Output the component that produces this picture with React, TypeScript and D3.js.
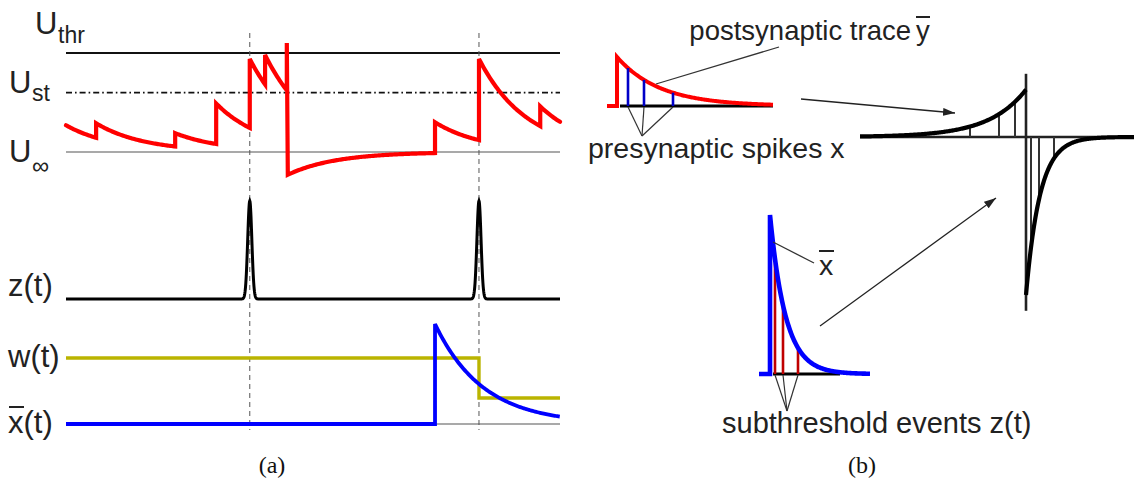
import React, { useEffect } from 'react';
import * as d3 from 'd3';

const W = 1134;
const H = 490;

// ---------- Panel (a): membrane potential (units: U_inf = 0, U_thr = 1), time in ms ----------
const U_INF = 0;
const U_ST = 0.6;
const U_THR = 1.0;
const TAU_M = 9.7;
const U_START = 0.27;
const inputTimes = [6.1, 22.1, 30.4, 37.2, 40.3, 74.7, 83.6, 96.0];
const inputLevels = [0.29, 0.19, 0.49, 0.94, 0.98, 0.3, 0.94, 0.46];
const spikeTime = 44.7;
const spikePeak = 1.1;
const resetLevel = -0.23;
const T_END = 100;

// subthreshold events z(t): crossings of U_st
const eventTimes = [37.2, 83.6];
const EVENT_WIDTH = 0.42;

// synaptic weight w(t), piecewise constant
const weightTimes = [0, 83.6];
const weightValues = [0.66, 0.26];

// presynaptic trace x̄(t)
const preSpikeTimes = [74.7];
const TAU_X = 9.7;

// ---------- Panel (b): STDP-like window built from traces ----------
const preLags = [1.1, 2.7, 5.6]; // presynaptic spikes after the rise of ȳ
const eventLags = [0.5, 1.3, 2.8]; // subthreshold events after the rise of x̄
const TAU_Y = 4.3;
const TAU_XB = 1.55;
const LTP_AMP = 0.3;
const LTD_AMP = 1.0;
const TAU_LTP = 3.7;
const TAU_LTD = 1.4;

const TEXT = '#222';
const SANS = '"Liberation Sans", Arial, Helvetica, sans-serif';
const OLIVE = '#bab400';

function membrane(): [number, number][] {
  const pts: [number, number][] = [];
  const segs: { t0: number; u0: number; t1: number }[] = [];
  const starts = [{ t: 0, u: U_START }];
  inputTimes.forEach((t, i) => {
    if (t < spikeTime) starts.push({ t, u: inputLevels[i] });
  });
  const afterSpike = [{ t: spikeTime, u: resetLevel }];
  inputTimes.forEach((t, i) => {
    if (t > spikeTime) afterSpike.push({ t, u: inputLevels[i] });
  });
  for (let i = 0; i < starts.length; i++) {
    const t1 = i + 1 < starts.length ? starts[i + 1].t : spikeTime;
    segs.push({ t0: starts[i].t, u0: starts[i].u, t1 });
  }
  // leaky relaxation toward U_inf between inputs
  const decay = (s: { t0: number; u0: number; t1: number }) => {
    const n = Math.max(2, Math.ceil((s.t1 - s.t0) / 0.25));
    for (let k = 0; k <= n; k++) {
      const t = s.t0 + ((s.t1 - s.t0) * k) / n;
      pts.push([t, U_INF + (s.u0 - U_INF) * Math.exp(-(t - s.t0) / TAU_M)]);
    }
  };
  segs.forEach(decay);
  pts.push([spikeTime, spikePeak]);
  for (let i = 0; i < afterSpike.length; i++) {
    const t1 = i + 1 < afterSpike.length ? afterSpike[i + 1].t : T_END;
    const t0 = i === 0 ? spikeTime + 0.2 : afterSpike[i].t;
    decay({ t0, u0: afterSpike[i].u, t1 });
  }
  return pts;
}

export default function App() {
  useEffect(() => {
    document.body.style.margin = '0';
  }, []);

  // scales panel (a)
  const tx = d3.scaleLinear().domain([0, T_END]).range([66, 560]);
  const uy = d3.scaleLinear().domain([0, 1]).range([152, 53]);
  const zy = d3.scaleLinear().domain([0, 1]).range([299, 201]);
  const by = d3.scaleLinear().domain([0, 1]).range([424, 324]);
  const line = d3.line<[number, number]>();

  const uPath = d3
    .line<[number, number]>()
    .x((d) => tx(d[0]))
    .y((d) => uy(d[1]))(membrane());

  const zPts: [number, number][] = d3.range(0, T_END + 0.001, 0.05).map((t) => [
    t,
    d3.sum(eventTimes, (e) => Math.exp(-((t - e) ** 2) / (2 * EVENT_WIDTH ** 2))),
  ]);
  const zPath = d3
    .line<[number, number]>()
    .x((d) => tx(d[0]))
    .y((d) => zy(d[1]))(zPts);

  const wPts: [number, number][] = [];
  weightTimes.forEach((t, i) => {
    const tEnd = i + 1 < weightTimes.length ? weightTimes[i + 1] : T_END;
    wPts.push([t, weightValues[i]], [tEnd, weightValues[i]]);
  });
  const wPath = d3
    .line<[number, number]>()
    .x((d) => tx(d[0]))
    .y((d) => by(d[1]))(wPts);

  const xPts: [number, number][] = [];
  const t0 = preSpikeTimes[0];
  xPts.push([0, 0], [t0, 0]);
  d3.range(t0, T_END + 0.001, 0.25).forEach((t) => {
    xPts.push([t, d3.sum(preSpikeTimes, (s) => (t >= s ? Math.exp(-(t - s) / TAU_X) : 0))]);
  });
  const xPath = d3
    .line<[number, number]>()
    .x((d) => tx(d[0]))
    .y((d) => by(d[1]))(xPts);

  // scales panel (b)
  const b1x = d3.scaleLinear().domain([0, 15.6]).range([617, 773]);
  const b1y = d3.scaleLinear().domain([0, 1]).range([106, 57]);
  const yTrace: [number, number][] = [[b1x(-1), b1y(0)], [b1x(0), b1y(0)]];
  d3.range(0, 15.6 + 0.001, 0.1).forEach((s) => yTrace.push([b1x(s), b1y(Math.exp(-s / TAU_Y))]));

  const b2x = d3.scaleLinear().domain([0, 10]).range([770, 870]);
  const b2y = d3.scaleLinear().domain([0, 1]).range([374, 215]);
  const xbTrace: [number, number][] = [[b2x(-1.1), b2y(0)], [b2x(0), b2y(0)]];
  d3.range(0, 10 + 0.001, 0.05).forEach((s) => xbTrace.push([b2x(s), b2y(Math.exp(-s / TAU_XB))]));

  const b3x = d3.scaleLinear().domain([-16.6, 10.8]).range([860, 1134]);
  const b3y = d3.scaleLinear().domain([-1, 0]).range([295, 137]);
  const ltp: [number, number][] = d3
    .range(-16.6, 0.0001, 0.1)
    .map((s) => [b3x(s), b3y(LTP_AMP * Math.exp(s / TAU_LTP))]);
  const ltd: [number, number][] = d3
    .range(0, 10.8 + 0.0001, 0.05)
    .map((s) => [b3x(s), b3y(-LTD_AMP * Math.exp(-s / TAU_LTD))]);

  const dash = '5,4';

  return (
    <svg width={W} height={H} style={{ position: 'absolute', left: 0, top: 0, background: '#fff' }}>
      <defs>
        <marker id="ah" markerUnits="userSpaceOnUse" markerWidth={14} markerHeight={10} refX={12} refY={4} orient="auto">
          <path d="M0,0 L12,4 L0,8 Z" fill={TEXT} />
        </marker>
      </defs>
      <rect width={W} height={H} fill="#fff" />

      {/* ----- panel (a) ----- */}
      {/* reference levels */}
      <line x1={tx(0)} x2={tx(T_END)} y1={uy(U_THR)} y2={uy(U_THR)} stroke="#111" strokeWidth={1.8} />
      <line x1={tx(0)} x2={tx(T_END)} y1={uy(U_ST)} y2={uy(U_ST)} stroke="#111" strokeWidth={1.6} strokeDasharray="6,3,1.6,3" />
      <line x1={tx(0)} x2={tx(T_END)} y1={uy(U_INF)} y2={uy(U_INF)} stroke="#555" strokeWidth={1.1} />
      <line x1={tx(preSpikeTimes[0])} x2={tx(T_END)} y1={by(0)} y2={by(0)} stroke="#555" strokeWidth={1.1} />

      {/* event markers */}
      {eventTimes.map((t) => (
        <line key={t} x1={tx(t)} x2={tx(t)} y1={33} y2={430} stroke="#555" strokeWidth={1} strokeDasharray={dash} />
      ))}

      <path d={uPath ?? ''} fill="none" stroke="#ff0000" strokeWidth={4.2} strokeLinejoin="miter" strokeLinecap="round" />
      <path d={zPath ?? ''} fill="none" stroke="#000" strokeWidth={3} />
      <path d={wPath ?? ''} fill="none" stroke={OLIVE} strokeWidth={3.4} />
      <path d={xPath ?? ''} fill="none" stroke="#0000ff" strokeWidth={3.8} />

      {/* level labels */}
      <g fill={TEXT} fontFamily={SANS}>
        <text x={35} y={34} fontSize={31}>U</text>
        <text x={58} y={43} fontSize={23}>thr</text>
        <text x={9} y={93} fontSize={31}>U</text>
        <text x={32} y={101} fontSize={23}>st</text>
        <text x={9} y={162} fontSize={31}>U</text>
        <text x={32} y={174} fontSize={24}>∞</text>

        <text x={8} y={296} fontSize={31}>z(t)</text>
        <text x={8} y={367} fontSize={31}>w(t)</text>
        <text x={8} y={433} fontSize={31}>x(t)</text>
      </g>
      <line x1={9} x2={24} y1={407} y2={407} stroke={TEXT} strokeWidth={2} />

      {/* ----- panel (b) ----- */}
      {/* postsynaptic trace with presynaptic spikes */}
      <line x1={b1x(0.3)} x2={b1x(15.6)} y1={b1y(0)} y2={b1y(0)} stroke="#000" strokeWidth={3} />
      <path d={line(yTrace) ?? ''} fill="none" stroke="#ff0000" strokeWidth={4} />
      {preLags.map((s) => (
        <line key={s} x1={b1x(s)} x2={b1x(s)} y1={b1y(0)} y2={b1y(Math.exp(-s / TAU_Y))} stroke="#0000c8" strokeWidth={2.6} />
      ))}
      <line x1={656} y1={84} x2={779} y2={47} stroke="#333" strokeWidth={1.3} />
      {preLags.map((s) => (
        <line key={'l' + s} x1={b1x(s)} y1={b1y(0) + 1} x2={642} y2={136} stroke="#333" strokeWidth={1.2} />
      ))}

      {/* presynaptic trace with subthreshold events */}
      <line x1={b2x(0.3)} x2={b2x(7)} y1={b2y(0)} y2={b2y(0)} stroke="#000" strokeWidth={3} />
      {eventLags.map((s) => (
        <line key={s} x1={b2x(s)} x2={b2x(s)} y1={b2y(0)} y2={b2y(Math.exp(-s / TAU_XB))} stroke="#c00000" strokeWidth={2.6} />
      ))}
      <path d={line(xbTrace) ?? ''} fill="none" stroke="#0000ff" strokeWidth={4.6} />
      <line x1={773} y1={242} x2={814} y2={263} stroke="#333" strokeWidth={1.3} />
      {eventLags.map((s) => (
        <line key={'l' + s} x1={b2x(s)} y1={b2y(0) + 1} x2={787} y2={411} stroke="#333" strokeWidth={1.2} />
      ))}

      {/* resulting learning window */}
      <line x1={b3x(-16.6)} x2={b3x(10.8)} y1={b3y(0)} y2={b3y(0)} stroke="#222" strokeWidth={2.6} />
      <line x1={b3x(0)} x2={b3x(0)} y1={b3y(0.4)} y2={b3y(-1.1)} stroke="#222" strokeWidth={2.6} />
      {preLags.map((s) => (
        <line key={s} x1={b3x(-s)} x2={b3x(-s)} y1={b3y(0)} y2={b3y(LTP_AMP * Math.exp(-s / TAU_LTP))} stroke="#333" strokeWidth={2} />
      ))}
      {eventLags.map((s) => (
        <line key={s} x1={b3x(s)} x2={b3x(s)} y1={b3y(0)} y2={b3y(-LTD_AMP * Math.exp(-s / TAU_LTD))} stroke="#333" strokeWidth={2} />
      ))}
      <path d={line(ltp) ?? ''} fill="none" stroke="#000" strokeWidth={4.2} />
      <path d={line(ltd) ?? ''} fill="none" stroke="#000" strokeWidth={4.2} />

      {/* arrows */}
      <line x1={801} y1={99} x2={955} y2={113} stroke={TEXT} strokeWidth={1.3} markerEnd="url(#ah)" />
      <line x1={820} y1={326} x2={996} y2={198} stroke={TEXT} strokeWidth={1.3} markerEnd="url(#ah)" />

      <g fill={TEXT} fontFamily={SANS} fontSize={28.5}>
        <text x={911} y={40} textAnchor="end" fontSize={27.5}>postsynaptic trace</text>
        <text x={916} y={40} fontSize={27.5}>y</text>
        <text x={588} y={158}>presynaptic spikes x</text>
        <text x={819} y={275}>x</text>
        <text x={722} y={433} fontSize={29}>subthreshold events z(t)</text>
      </g>
      <line x1={916} x2={930} y1={17} y2={17} stroke={TEXT} strokeWidth={2} />
      <line x1={819} x2={834} y1={251} y2={251} stroke={TEXT} strokeWidth={2} />

      {/* captions */}
      <g fill="#111" fontFamily='"Liberation Serif", "DejaVu Serif", serif' fontSize={24} textAnchor="middle">
        <text x={272} y={473}>(a)</text>
        <text x={862} y={473}>(b)</text>
      </g>
    </svg>
  );
}
